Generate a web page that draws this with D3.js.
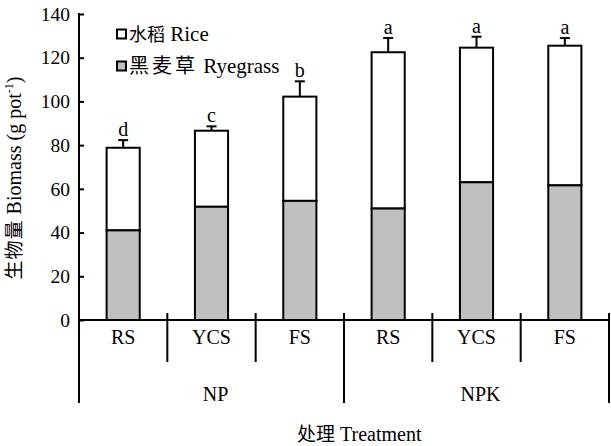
<!DOCTYPE html>
<html><head><meta charset="utf-8">
<script src="https://cdn.jsdelivr.net/npm/d3@7/dist/d3.min.js"></script>
<style>body{margin:0;background:#fff}svg{display:block}text{font-family:"Liberation Serif",serif;fill:#000}.cjk{font-family:"Noto Sans CJK SC",sans-serif}</style>
</head><body><svg id="c" width="611" height="446"></svg>
<script>
const categories = ["RS","YCS","FS","RS","YCS","FS"];
const groups = ["NP","NPK"];
const groupOf = [0,0,0,1,1,1];
const ryegrass = [41.0, 51.8, 54.5, 51.0, 63.0, 61.6];
const total = [78.8, 86.6, 102.2, 122.5, 124.6, 125.5];
const errors = [3.5, 2.0, 7.0, 6.5, 5.0, 3.5];
const letters = ["d","c","b","a","a","a"];
const yTicks = [0,20,40,60,80,100,120,140];
const legendCJK = ["水稻","黑麦草"];
const legendEN = ["Rice","Ryegrass"];
const legendColors = ["#ffffff","#c0c0c0"];

const svg = d3.select("#c");
const x = d3.scaleBand().domain(d3.range(categories.length)).range([79,609]).padding(0);
const y = d3.scaleLinear().domain([0,140]).range([320,14]);
const bw = x.bandwidth()*0.375;
const FS = 20;

// bars
const g = svg.append("g");
categories.forEach((c,i)=>{
  const cx = x(i)+x.bandwidth()/2;
  g.append("rect").attr("x",cx-bw/2).attr("width",bw)
    .attr("y",y(total[i])).attr("height",y(ryegrass[i])-y(total[i]))
    .attr("fill",legendColors[0]).attr("stroke","#000").attr("stroke-width",2);
  g.append("rect").attr("x",cx-bw/2).attr("width",bw)
    .attr("y",y(ryegrass[i])).attr("height",y(0)-y(ryegrass[i]))
    .attr("fill",legendColors[1]).attr("stroke","#000").attr("stroke-width",2);
  const top = y(total[i]+errors[i]);
  g.append("line").attr("x1",cx).attr("x2",cx).attr("y1",y(total[i])).attr("y2",top).attr("stroke","#000").attr("stroke-width",2);
  g.append("line").attr("x1",cx-5).attr("x2",cx+5).attr("y1",top).attr("y2",top).attr("stroke","#000").attr("stroke-width",2);
  g.append("text").attr("x",cx).attr("y",top-4).attr("text-anchor","middle").attr("font-size",FS).text(letters[i]);
  svg.append("text").attr("x",cx).attr("y",344).attr("text-anchor","middle").attr("font-size",FS).text(c);
});

// y axis
const yAxis = d3.axisLeft(y).tickValues(yTicks).tickSize(-5).tickPadding(9);
const ya = svg.append("g").attr("transform","translate(79,0)").call(yAxis);
ya.select(".domain").remove();
ya.selectAll("line").attr("stroke","#000").attr("stroke-width",2);
ya.selectAll("text").attr("font-size",19.5).attr("font-family",'"Liberation Serif",serif').attr("fill","#000");
svg.append("line").attr("x1",79).attr("x2",79).attr("y1",y(140)-1).attr("y2",403).attr("stroke","#000").attr("stroke-width",2);

// x axis
svg.append("line").attr("x1",78).attr("x2",610).attr("y1",y(0)).attr("y2",y(0)).attr("stroke","#000").attr("stroke-width",2);
for(let i=1;i<=categories.length;i++){
  const bx = i<categories.length ? x(i) : x(i-1)+x.bandwidth();
  const isGroupEdge = i===categories.length || groupOf[i]!==groupOf[i-1];
  svg.append("line").attr("x1",bx).attr("x2",bx).attr("y1",313).attr("y2",isGroupEdge?403:362)
    .attr("stroke","#000").attr("stroke-width",2);
}
groups.forEach((gname,gi)=>{
  const idx = groupOf.map((v,i)=>v===gi?i:-1).filter(v=>v>=0);
  const x0 = x(idx[0]), x1 = x(idx[idx.length-1])+x.bandwidth();
  svg.append("text").attr("x",(x0+x1)/2+4).attr("y",401).attr("text-anchor","middle").attr("font-size",FS).text(gname);
});

// titles
const xt = svg.append("text").attr("x",297).attr("y",441);
xt.append("tspan").attr("class","cjk").attr("font-size",19).text("处理");
xt.append("tspan").attr("font-size",FS).text("\u00a0Treatment");
const yt = svg.append("text").attr("transform","translate(21,178) rotate(-90)").attr("text-anchor","middle");
yt.append("tspan").attr("class","cjk").attr("font-size",19).attr("letter-spacing",1).text("生物量");
yt.append("tspan").attr("font-size",FS).text("\u00a0Biomass (g pot");
yt.append("tspan").attr("font-size",12).attr("dy",-8).text("-1");
yt.append("tspan").attr("font-size",FS).attr("dy",8).text(")");

// legend
legendCJK.forEach((l,i)=>{
  const ly = 34 + i*32;
  svg.append("rect").attr("x",117).attr("y",ly-4.5).attr("width",9).attr("height",9)
    .attr("fill",legendColors[i]).attr("stroke","#000").attr("stroke-width",2);
  const t = svg.append("text").attr("x",129).attr("y",ly+7);
  t.append("tspan").attr("class","cjk").attr("font-size",i===0?18:20).attr("letter-spacing",i===0?0:3).text(l);
  t.append("tspan").attr("font-size",21).text("\u00a0"+legendEN[i]);
});
</script></body></html>
